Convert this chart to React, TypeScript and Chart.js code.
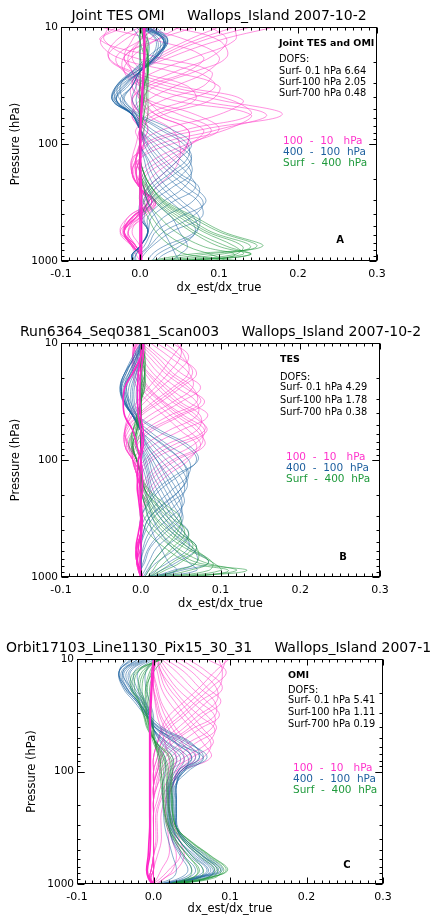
import React, { useEffect, useRef } from 'react';
import { Chart, registerables } from 'chart.js';
Chart.register(...registerables);

// ---------- data ----------
const PRESSURE = [10, 13, 18, 24, 32, 42, 56, 75, 100, 133, 178, 237, 316, 422, 562, 750, 880, 1000];
const X_TICKS = [-0.1, 0.0, 0.1, 0.2, 0.3];
const X_TICK_LABELS = ['-0.1', '0.0', '0.1', '0.2', '0.3'];
const Y_TICKS = [10, 100, 1000];
const Y_TICK_LABELS = ['10', '100', '1000'];
const LEGEND_LABELS = ['100  -  10   hPa', '400  -  100  hPa', 'Surf  -  400  hPa'];

// Panel A: Joint TES OMI
const A_MAGENTA = [
  [0.17, 0.10, 0.04, 0.00, -0.01, 0.00, 0.01, 0.00, -0.005, -0.01, -0.01, 0.00, 0.015, -0.005, -0.02, -0.01, 0.00, 0.00],
  [0.12, 0.12, 0.07, 0.02, -0.01, -0.01, 0.00, 0.01, 0.00, 0.00, -0.005, 0.005, 0.01, -0.015, -0.025, -0.005, 0.00, 0.002],
  [0.04, 0.10, 0.11, 0.07, 0.02, 0.00, -0.01, 0.00, 0.005, -0.005, 0.00, 0.00, 0.02, 0.005, -0.015, -0.01, -0.005, 0.00],
  [-0.03, -0.05, 0.02, 0.09, 0.08, 0.03, 0.00, 0.00, 0.01, -0.01, -0.01, 0.00, 0.015, -0.01, -0.02, -0.005, 0.00, 0.00],
  [-0.02, -0.05, -0.03, 0.04, 0.10, 0.09, 0.03, 0.00, 0.00, -0.005, -0.01, 0.00, 0.02, 0.00, -0.02, -0.01, 0.00, 0.00],
  [0.00, -0.03, -0.04, -0.01, 0.05, 0.13, 0.10, 0.03, 0.00, 0.00, -0.005, 0.005, 0.01, -0.015, -0.02, -0.005, 0.00, 0.00],
  [0.02, 0.00, -0.03, -0.02, 0.02, 0.10, 0.18, 0.08, 0.01, 0.00, -0.005, 0.00, 0.015, -0.005, -0.025, -0.01, 0.00, 0.00],
  [0.05, 0.02, -0.01, -0.02, 0.00, 0.04, 0.14, 0.11, 0.04, 0.00, -0.01, 0.00, 0.02, 0.00, -0.015, -0.005, 0.00, 0.00],
  [0.14, 0.08, 0.03, 0.00, -0.01, 0.01, 0.07, 0.10, 0.06, 0.02, 0.00, 0.00, 0.01, -0.01, -0.02, -0.01, 0.00, 0.00],
  [0.00, -0.01, -0.02, -0.01, 0.00, 0.01, 0.03, 0.08, 0.065, 0.04, 0.01, 0.00, 0.01, -0.01, -0.02, -0.005, 0.00, 0.00],
  [0.10, 0.06, 0.02, 0.00, 0.00, 0.00, 0.02, 0.06, 0.06, 0.05, 0.03, 0.01, 0.005, -0.005, -0.02, -0.01, 0.00, 0.00],
  [0.01, 0.00, -0.01, 0.00, 0.00, 0.00, 0.01, 0.04, 0.05, 0.05, 0.04, 0.02, 0.01, 0.00, -0.01, 0.00, 0.00, 0.00],
  [0.07, 0.02, -0.02, 0.00, 0.06, 0.07, 0.02, -0.005, 0.00, -0.005, -0.01, 0.00, 0.015, -0.01, -0.02, -0.005, 0.00, 0.00],
  [-0.05, 0.02, 0.08, 0.06, 0.01, -0.01, 0.00, 0.01, 0.00, -0.005, 0.00, 0.00, 0.01, -0.005, -0.02, -0.01, 0.00, 0.00],
  [0.09, 0.11, 0.09, 0.045, 0.005, -0.01, -0.005, 0.005, 0.00, -0.005, -0.005, 0.00, 0.015, -0.01, -0.02, -0.008, 0.00, 0.00],
  [0.00, 0.06, 0.10, 0.085, 0.045, 0.01, -0.01, 0.00, 0.005, -0.005, -0.005, 0.00, 0.015, -0.005, -0.02, -0.008, 0.00, 0.00],
  [-0.04, -0.045, -0.01, 0.07, 0.095, 0.06, 0.01, 0.00, 0.005, -0.008, -0.01, 0.00, 0.018, -0.005, -0.02, -0.008, 0.00, 0.00],
  [0.01, -0.02, -0.04, -0.015, 0.035, 0.115, 0.14, 0.06, 0.005, 0.00, -0.005, 0.00, 0.012, -0.01, -0.022, -0.008, 0.00, 0.00],
  [0.03, 0.01, -0.02, -0.02, 0.01, 0.07, 0.16, 0.10, 0.025, 0.00, -0.008, 0.00, 0.018, -0.003, -0.02, -0.008, 0.00, 0.00],
  [0.12, 0.07, 0.025, 0.00, -0.005, 0.005, 0.05, 0.09, 0.065, 0.03, 0.005, 0.00, 0.01, -0.008, -0.02, -0.008, 0.00, 0.00],
  [0.02, 0.00, -0.015, -0.01, 0.00, 0.005, 0.02, 0.06, 0.06, 0.045, 0.02, 0.005, 0.008, -0.005, -0.015, -0.005, 0.00, 0.00],
];
const A_ZERO = [
  [0.004, 0.005, 0.005, 0.004, 0.003, 0.002, 0.001, 0.00, 0.00, 0.00, 0.00, 0.00, 0.00, 0.00, 0.00, 0.00, 0.00, 0.00],
  [0.006, 0.006, 0.006, 0.005, 0.004, 0.003, 0.002, 0.001, 0.001, 0.001, 0.001, 0.002, 0.002, 0.002, 0.002, 0.002, 0.002, 0.002],
];
const A_BLUE = [
  [0.01, 0.03, 0.01, -0.01, -0.025, -0.02, 0.00, 0.04, 0.065, 0.05, 0.03, 0.01, 0.00, 0.00, 0.01, 0.00, -0.005, -0.01],
  [0.02, 0.035, 0.015, -0.01, -0.03, -0.03, -0.005, 0.025, 0.055, 0.065, 0.045, 0.02, 0.005, 0.00, 0.01, 0.00, -0.01, -0.01],
  [0.00, 0.03, 0.02, -0.005, -0.03, -0.035, -0.01, 0.01, 0.035, 0.06, 0.065, 0.04, 0.015, 0.005, 0.01, 0.00, -0.01, -0.01],
  [0.01, 0.035, 0.02, 0.00, -0.025, -0.035, -0.01, 0.00, 0.02, 0.04, 0.06, 0.07, 0.04, 0.015, 0.01, 0.00, -0.01, -0.005],
  [0.00, 0.03, 0.025, 0.00, -0.02, -0.03, -0.01, 0.00, 0.01, 0.025, 0.045, 0.07, 0.083, 0.05, 0.02, 0.01, 0.00, 0.00],
  [0.01, 0.03, 0.02, 0.00, -0.015, -0.03, -0.01, 0.00, 0.005, 0.015, 0.03, 0.05, 0.075, 0.078, 0.04, 0.015, 0.005, 0.00],
  [0.00, 0.025, 0.02, 0.00, -0.01, -0.025, -0.01, 0.00, 0.00, 0.01, 0.02, 0.035, 0.055, 0.075, 0.07, 0.03, 0.015, 0.01],
  [0.00, 0.02, 0.015, 0.00, -0.01, -0.02, -0.005, 0.00, 0.00, 0.005, 0.01, 0.02, 0.04, 0.06, 0.07, 0.05, 0.03, 0.02],
  [-0.005, 0.01, 0.01, 0.00, -0.005, -0.01, 0.00, 0.00, 0.00, 0.00, 0.005, 0.01, 0.02, 0.04, 0.05, 0.06, 0.05, 0.04],
  [-0.01, 0.00, 0.00, 0.00, 0.00, -0.005, 0.00, 0.00, 0.00, 0.00, 0.00, 0.005, 0.01, 0.02, 0.03, 0.04, 0.045, 0.05],
  [0.015, 0.035, 0.02, -0.005, -0.03, -0.033, -0.008, 0.015, 0.045, 0.065, 0.055, 0.03, 0.01, 0.003, 0.01, 0.00, -0.01, -0.01],
  [0.005, 0.032, 0.022, 0.00, -0.022, -0.032, -0.01, 0.00, 0.015, 0.03, 0.05, 0.075, 0.065, 0.03, 0.015, 0.005, -0.005, -0.005],
  [0.012, 0.033, 0.018, -0.008, -0.028, -0.025, -0.003, 0.03, 0.06, 0.06, 0.038, 0.015, 0.003, 0.00, 0.01, 0.00, -0.008, -0.01],
  [0.006, 0.032, 0.02, -0.003, -0.028, -0.035, -0.01, 0.005, 0.028, 0.05, 0.065, 0.055, 0.028, 0.01, 0.01, 0.00, -0.01, -0.008],
  [0.004, 0.03, 0.022, 0.00, -0.018, -0.03, -0.01, 0.00, 0.008, 0.02, 0.038, 0.06, 0.08, 0.065, 0.03, 0.012, 0.002, 0.00],
  [0.00, 0.022, 0.018, 0.00, -0.01, -0.022, -0.008, 0.00, 0.00, 0.008, 0.015, 0.028, 0.048, 0.068, 0.072, 0.04, 0.022, 0.015],
];
const A_GREEN = [
  [0.00, 0.005, 0.01, 0.01, 0.01, 0.01, 0.01, 0.005, 0.00, 0.00, 0.005, 0.015, 0.035, 0.07, 0.105, 0.155, 0.06, 0.01],
  [0.005, 0.01, 0.01, 0.01, 0.01, 0.005, 0.005, 0.00, 0.00, 0.00, 0.005, 0.015, 0.03, 0.06, 0.09, 0.14, 0.10, 0.02],
  [0.00, 0.005, 0.01, 0.01, 0.005, 0.005, 0.00, 0.00, 0.00, 0.00, 0.00, 0.01, 0.025, 0.05, 0.08, 0.12, 0.13, 0.04],
  [0.005, 0.005, 0.005, 0.01, 0.005, 0.00, 0.00, 0.00, 0.00, 0.00, 0.00, 0.005, 0.02, 0.04, 0.065, 0.10, 0.14, 0.06],
  [0.00, 0.00, 0.005, 0.005, 0.005, 0.00, 0.00, 0.00, 0.00, 0.00, 0.00, 0.005, 0.01, 0.025, 0.045, 0.08, 0.12, 0.09],
  [0.00, 0.00, 0.00, 0.005, 0.00, 0.00, 0.00, 0.00, 0.00, 0.00, 0.00, 0.00, 0.005, 0.015, 0.03, 0.06, 0.09, 0.11],
  [0.00, 0.00, 0.00, 0.00, 0.00, 0.00, 0.00, 0.00, 0.00, 0.00, 0.00, 0.00, 0.00, 0.01, 0.02, 0.04, 0.06, 0.13],
  [0.003, 0.008, 0.01, 0.01, 0.008, 0.008, 0.005, 0.002, 0.00, 0.00, 0.005, 0.015, 0.032, 0.065, 0.10, 0.148, 0.08, 0.015],
  [0.002, 0.006, 0.008, 0.01, 0.006, 0.004, 0.002, 0.00, 0.00, 0.00, 0.002, 0.012, 0.028, 0.055, 0.085, 0.13, 0.12, 0.03],
  [0.002, 0.004, 0.006, 0.008, 0.004, 0.002, 0.00, 0.00, 0.00, 0.00, 0.00, 0.008, 0.022, 0.045, 0.07, 0.11, 0.14, 0.05],
];

// Panel B: TES
const B_MAGENTA = [
  [0.053, 0.04, 0.025, 0.01, -0.005, -0.015, -0.02, -0.015, -0.005, 0.00, 0.00, 0.00, 0.00, 0.00, -0.005, -0.005, 0.00, 0.00],
  [0.04, 0.06, 0.045, 0.025, 0.005, -0.01, -0.02, -0.015, -0.005, 0.00, 0.00, 0.00, 0.00, 0.00, -0.005, -0.005, 0.00, 0.00],
  [0.02, 0.045, 0.07, 0.05, 0.025, 0.00, -0.015, -0.02, -0.01, 0.00, 0.00, 0.00, 0.00, 0.00, -0.005, -0.005, -0.003, 0.00],
  [0.005, 0.025, 0.05, 0.075, 0.05, 0.02, -0.005, -0.015, -0.01, -0.005, 0.00, 0.00, 0.00, 0.00, -0.005, -0.005, -0.003, 0.00],
  [-0.005, 0.01, 0.03, 0.055, 0.08, 0.05, 0.015, -0.005, -0.01, -0.005, 0.00, 0.00, 0.00, 0.00, -0.005, -0.005, 0.00, 0.00],
  [-0.01, 0.00, 0.015, 0.035, 0.06, 0.084, 0.05, 0.015, -0.005, -0.005, 0.00, 0.00, 0.00, 0.00, 0.00, -0.005, 0.00, 0.00],
  [-0.01, -0.005, 0.005, 0.02, 0.04, 0.065, 0.083, 0.05, 0.015, 0.00, -0.005, 0.00, 0.00, 0.00, 0.00, 0.00, 0.00, 0.00],
  [-0.005, -0.01, -0.005, 0.005, 0.025, 0.045, 0.07, 0.08, 0.045, 0.02, 0.005, 0.00, 0.00, 0.00, 0.00, 0.00, 0.00, 0.00],
  [0.00, -0.01, -0.01, -0.005, 0.01, 0.03, 0.05, 0.07, 0.06, 0.035, 0.015, 0.005, 0.00, 0.00, 0.00, 0.00, 0.00, 0.00],
  [0.045, 0.055, 0.06, 0.04, 0.015, -0.005, -0.02, -0.02, -0.01, 0.00, 0.00, 0.00, 0.00, 0.00, -0.005, -0.005, 0.00, 0.00],
  [0.00, 0.02, 0.04, 0.065, 0.07, 0.035, 0.005, -0.01, -0.01, -0.005, 0.00, 0.00, 0.00, 0.00, -0.005, -0.005, 0.00, 0.00],
  [-0.01, -0.005, 0.01, 0.03, 0.05, 0.075, 0.07, 0.03, 0.005, -0.005, 0.00, 0.00, 0.00, 0.00, 0.00, -0.005, 0.00, 0.00],
  [-0.005, -0.01, 0.00, 0.01, 0.03, 0.055, 0.08, 0.065, 0.03, 0.01, 0.00, 0.00, 0.00, 0.00, 0.00, 0.00, 0.00, 0.00],
  [0.05, 0.05, 0.035, 0.018, 0.00, -0.012, -0.02, -0.017, -0.007, 0.00, 0.00, 0.00, 0.00, 0.00, -0.005, -0.005, 0.00, 0.00],
  [0.012, 0.035, 0.06, 0.065, 0.04, 0.01, -0.01, -0.018, -0.01, -0.003, 0.00, 0.00, 0.00, 0.00, -0.005, -0.005, -0.003, 0.00],
  [-0.008, 0.005, 0.022, 0.045, 0.07, 0.07, 0.035, 0.005, -0.008, -0.005, 0.00, 0.00, 0.00, 0.00, 0.00, -0.005, 0.00, 0.00],
  [-0.01, -0.008, 0.008, 0.025, 0.045, 0.07, 0.08, 0.04, 0.01, -0.003, -0.003, 0.00, 0.00, 0.00, 0.00, 0.00, 0.00, 0.00],
  [-0.008, -0.01, -0.003, 0.008, 0.028, 0.05, 0.075, 0.075, 0.04, 0.015, 0.003, 0.00, 0.00, 0.00, 0.00, 0.00, 0.00, 0.00],
  [-0.003, -0.01, -0.008, 0.00, 0.018, 0.038, 0.06, 0.075, 0.055, 0.028, 0.01, 0.003, 0.00, 0.00, 0.00, 0.00, 0.00, 0.00],
  [0.03, 0.05, 0.065, 0.045, 0.02, -0.003, -0.018, -0.02, -0.01, 0.00, 0.00, 0.00, 0.00, 0.00, -0.005, -0.005, -0.003, 0.00],
  [-0.002, 0.015, 0.035, 0.06, 0.075, 0.045, 0.01, -0.008, -0.01, -0.005, 0.00, 0.00, 0.00, 0.00, -0.005, -0.005, 0.00, 0.00],
];
const B_ZERO = [
  [0.001, 0.00, -0.003, -0.004, -0.004, -0.003, 0.00, 0.001, -0.003, -0.004, -0.004, -0.002, 0.00, 0.00, -0.003, -0.004, -0.002, 0.00],
  [0.004, 0.003, 0.00, -0.001, -0.001, 0.00, 0.003, 0.003, 0.00, -0.001, -0.001, 0.00, 0.002, 0.001, 0.00, -0.001, 0.00, 0.001],
  [0.002, 0.00, -0.01, -0.02, -0.022, -0.02, -0.01, -0.005, 0.00, 0.002, 0.002, 0.00, 0.00, -0.003, -0.006, -0.004, 0.00, 0.002],
];
const B_BLUE = [
  [0.00, -0.005, -0.015, -0.02, -0.015, -0.005, 0.02, 0.055, 0.07, 0.05, 0.025, 0.01, 0.00, 0.00, 0.00, 0.00, 0.00, 0.00],
  [0.005, -0.005, -0.02, -0.025, -0.02, -0.01, 0.01, 0.035, 0.06, 0.06, 0.04, 0.02, 0.005, 0.00, 0.00, 0.00, 0.00, 0.00],
  [0.00, -0.01, -0.02, -0.026, -0.022, -0.01, 0.00, 0.02, 0.04, 0.055, 0.057, 0.035, 0.015, 0.005, 0.00, 0.00, 0.00, 0.00],
  [0.00, -0.005, -0.015, -0.024, -0.02, -0.01, 0.00, 0.01, 0.025, 0.04, 0.05, 0.054, 0.035, 0.015, 0.005, 0.00, 0.00, 0.00],
  [0.005, 0.00, -0.01, -0.02, -0.018, -0.01, 0.00, 0.005, 0.015, 0.025, 0.035, 0.045, 0.053, 0.04, 0.02, 0.01, 0.005, 0.00],
  [0.00, 0.00, -0.008, -0.015, -0.015, -0.008, 0.00, 0.00, 0.01, 0.015, 0.025, 0.035, 0.045, 0.06, 0.045, 0.02, 0.01, 0.005],
  [0.00, 0.00, -0.005, -0.01, -0.01, -0.005, 0.00, 0.00, 0.005, 0.01, 0.015, 0.025, 0.035, 0.05, 0.07, 0.045, 0.025, 0.01],
  [0.00, 0.00, 0.00, -0.005, -0.005, 0.00, 0.00, 0.00, 0.00, 0.005, 0.01, 0.015, 0.025, 0.04, 0.06, 0.085, 0.05, 0.02],
  [0.00, 0.00, 0.00, 0.00, 0.00, 0.00, 0.00, 0.00, 0.00, 0.00, 0.005, 0.01, 0.015, 0.025, 0.04, 0.06, 0.07, 0.015],
  [0.00, 0.00, 0.00, 0.00, 0.00, 0.00, 0.00, 0.00, 0.00, 0.00, 0.00, 0.005, 0.01, 0.015, 0.025, 0.035, 0.045, 0.005],
  [0.003, -0.008, -0.018, -0.024, -0.02, -0.008, 0.005, 0.03, 0.05, 0.058, 0.05, 0.03, 0.01, 0.003, 0.00, 0.00, 0.00, 0.00],
  [0.002, -0.002, -0.012, -0.02, -0.018, -0.01, 0.00, 0.008, 0.02, 0.03, 0.04, 0.05, 0.05, 0.03, 0.012, 0.005, 0.00, 0.00],
  [0.002, -0.004, -0.013, -0.018, -0.013, -0.003, 0.025, 0.06, 0.072, 0.045, 0.02, 0.008, 0.00, 0.00, 0.00, 0.00, 0.00, 0.00],
  [0.004, -0.007, -0.02, -0.026, -0.021, -0.01, 0.005, 0.028, 0.05, 0.06, 0.05, 0.028, 0.01, 0.003, 0.00, 0.00, 0.00, 0.00],
  [0.00, -0.008, -0.018, -0.025, -0.021, -0.01, 0.00, 0.015, 0.032, 0.048, 0.055, 0.045, 0.025, 0.01, 0.003, 0.00, 0.00, 0.00],
  [0.002, -0.003, -0.012, -0.022, -0.019, -0.01, 0.00, 0.007, 0.02, 0.033, 0.045, 0.052, 0.045, 0.025, 0.01, 0.003, 0.00, 0.00],
  [0.003, 0.00, -0.009, -0.018, -0.016, -0.009, 0.00, 0.003, 0.012, 0.02, 0.03, 0.04, 0.05, 0.05, 0.03, 0.015, 0.008, 0.003],
  [0.00, 0.00, -0.006, -0.012, -0.012, -0.006, 0.00, 0.00, 0.007, 0.012, 0.02, 0.03, 0.04, 0.055, 0.06, 0.035, 0.018, 0.008],
  [0.00, 0.00, -0.003, -0.008, -0.008, -0.003, 0.00, 0.00, 0.003, 0.008, 0.012, 0.02, 0.03, 0.045, 0.065, 0.07, 0.04, 0.015],
];
const B_GREEN = [
  [0.00, 0.005, 0.005, 0.005, 0.00, 0.00, -0.01, -0.01, -0.005, 0.00, 0.01, 0.03, 0.05, 0.045, 0.03, 0.015, 0.01, 0.005],
  [0.00, 0.005, 0.005, 0.00, 0.00, -0.005, -0.01, -0.015, -0.005, 0.00, 0.005, 0.02, 0.04, 0.06, 0.05, 0.03, 0.02, 0.01],
  [0.00, 0.00, 0.005, 0.005, 0.00, -0.005, -0.005, -0.01, -0.005, 0.00, 0.005, 0.015, 0.03, 0.05, 0.07, 0.05, 0.03, 0.015],
  [0.005, 0.005, 0.00, 0.00, 0.00, 0.00, -0.005, -0.01, -0.005, 0.00, 0.00, 0.01, 0.02, 0.04, 0.065, 0.085, 0.06, 0.02],
  [0.00, 0.00, 0.00, 0.00, 0.00, 0.00, -0.005, -0.005, 0.00, 0.00, 0.00, 0.005, 0.015, 0.03, 0.055, 0.09, 0.10, 0.03],
  [0.00, 0.00, 0.00, 0.00, 0.00, 0.00, 0.00, -0.005, 0.00, 0.00, 0.00, 0.005, 0.01, 0.025, 0.045, 0.08, 0.12, 0.045],
  [0.00, 0.00, 0.00, 0.00, 0.00, 0.00, 0.00, 0.00, 0.00, 0.00, 0.00, 0.00, 0.005, 0.02, 0.04, 0.07, 0.133, 0.05],
  [0.00, 0.00, 0.00, 0.00, 0.00, 0.00, 0.00, 0.00, 0.00, 0.00, 0.00, 0.00, 0.00, 0.01, 0.03, 0.06, 0.11, 0.07],
  [0.00, 0.003, 0.005, 0.003, 0.00, -0.003, -0.01, -0.012, -0.005, 0.00, 0.008, 0.025, 0.045, 0.055, 0.04, 0.022, 0.015, 0.008],
  [0.00, 0.002, 0.005, 0.003, 0.00, -0.003, -0.007, -0.012, -0.005, 0.00, 0.005, 0.018, 0.035, 0.055, 0.065, 0.04, 0.025, 0.012],
  [0.003, 0.003, 0.002, 0.002, 0.00, -0.002, -0.005, -0.01, -0.005, 0.00, 0.003, 0.012, 0.025, 0.045, 0.07, 0.07, 0.045, 0.018],
  [0.00, 0.00, 0.00, 0.00, 0.00, 0.00, -0.003, -0.007, 0.00, 0.00, 0.00, 0.008, 0.018, 0.035, 0.06, 0.09, 0.085, 0.025],
];

// Panel C: OMI
const C_MAGENTA = [
  [0.099, 0.08, 0.06, 0.04, 0.02, 0.01, 0.005, 0.00, 0.00, 0.00, 0.00, 0.00, 0.00, 0.00, 0.00, -0.003, -0.005, 0.00],
  [0.07, 0.095, 0.075, 0.055, 0.035, 0.015, 0.005, 0.00, 0.00, 0.00, 0.00, 0.00, 0.00, 0.00, 0.00, -0.003, -0.005, 0.00],
  [0.045, 0.07, 0.09, 0.07, 0.05, 0.03, 0.01, 0.005, 0.00, 0.00, 0.00, 0.00, 0.00, 0.00, 0.00, -0.003, -0.005, 0.00],
  [0.025, 0.05, 0.07, 0.088, 0.065, 0.045, 0.02, 0.01, 0.005, 0.00, 0.00, 0.00, 0.00, 0.00, 0.00, 0.00, -0.004, 0.00],
  [0.01, 0.03, 0.05, 0.07, 0.086, 0.06, 0.035, 0.015, 0.005, 0.00, 0.00, 0.00, 0.00, 0.00, 0.00, 0.00, -0.003, 0.00],
  [0.005, 0.015, 0.03, 0.05, 0.07, 0.082, 0.055, 0.03, 0.01, 0.005, 0.00, 0.00, 0.00, 0.00, 0.00, 0.00, 0.00, 0.00],
  [0.005, 0.01, 0.02, 0.035, 0.05, 0.065, 0.078, 0.05, 0.02, 0.01, 0.005, 0.00, 0.00, 0.00, 0.00, 0.00, 0.00, 0.00],
  [0.00, 0.005, 0.01, 0.02, 0.035, 0.05, 0.065, 0.075, 0.035, 0.02, 0.01, 0.005, 0.005, 0.005, 0.00, 0.00, 0.00, 0.00],
  [0.00, 0.00, 0.005, 0.01, 0.02, 0.03, 0.045, 0.055, 0.035, 0.025, 0.015, 0.01, 0.01, 0.01, 0.005, 0.00, 0.00, 0.00],
  [0.00, 0.00, 0.00, 0.005, 0.01, 0.02, 0.03, 0.04, 0.03, 0.025, 0.02, 0.02, 0.025, 0.03, 0.035, 0.02, 0.01, 0.00],
  [0.085, 0.09, 0.085, 0.06, 0.04, 0.02, 0.01, 0.005, 0.00, 0.00, 0.00, 0.00, 0.00, 0.00, 0.00, -0.003, -0.005, 0.00],
  [0.015, 0.04, 0.06, 0.08, 0.08, 0.05, 0.025, 0.01, 0.005, 0.00, 0.00, 0.00, 0.00, 0.00, 0.00, 0.00, -0.003, 0.00],
  [0.005, 0.01, 0.025, 0.04, 0.06, 0.08, 0.07, 0.04, 0.015, 0.005, 0.00, 0.00, 0.00, 0.00, 0.00, 0.00, 0.00, 0.00],
  [0.00, 0.00, 0.00, 0.002, 0.005, 0.01, 0.015, 0.02, 0.02, 0.018, 0.016, 0.016, 0.02, 0.025, 0.03, 0.025, 0.015, 0.005],
  [0.095, 0.088, 0.068, 0.048, 0.028, 0.012, 0.005, 0.00, 0.00, 0.00, 0.00, 0.00, 0.00, 0.00, 0.00, -0.003, -0.005, 0.00],
  [0.035, 0.06, 0.082, 0.082, 0.058, 0.038, 0.015, 0.008, 0.003, 0.00, 0.00, 0.00, 0.00, 0.00, 0.00, 0.00, -0.004, 0.00],
  [0.008, 0.02, 0.04, 0.06, 0.08, 0.075, 0.045, 0.022, 0.008, 0.003, 0.00, 0.00, 0.00, 0.00, 0.00, 0.00, 0.00, 0.00],
  [0.003, 0.008, 0.015, 0.028, 0.042, 0.058, 0.075, 0.065, 0.028, 0.015, 0.008, 0.003, 0.003, 0.003, 0.00, 0.00, 0.00, 0.00],
  [0.00, 0.00, 0.003, 0.008, 0.015, 0.025, 0.038, 0.048, 0.032, 0.025, 0.018, 0.015, 0.018, 0.02, 0.02, 0.01, 0.005, 0.00],
  [0.00, 0.00, 0.00, 0.003, 0.008, 0.015, 0.022, 0.03, 0.025, 0.022, 0.02, 0.022, 0.028, 0.035, 0.04, 0.03, 0.015, 0.003],
];
const C_ZERO = [
  [0.002, 0.00, -0.002, -0.003, -0.004, -0.004, -0.004, -0.004, -0.004, -0.004, -0.004, -0.004, -0.004, -0.004, -0.005, -0.008, -0.006, 0.00],
  [0.00, -0.002, -0.003, -0.004, -0.005, -0.005, -0.005, -0.005, -0.005, -0.005, -0.005, -0.005, -0.005, -0.006, -0.007, -0.009, -0.007, -0.002],
];
const C_BLUE = [
  [-0.03, -0.045, -0.04, -0.025, -0.01, 0.01, 0.045, 0.07, 0.04, 0.03, 0.03, 0.03, 0.03, 0.04, 0.06, 0.08, 0.05, 0.01],
  [-0.025, -0.045, -0.035, -0.02, -0.005, 0.015, 0.05, 0.06, 0.035, 0.03, 0.03, 0.03, 0.032, 0.045, 0.065, 0.085, 0.06, 0.02],
  [-0.02, -0.04, -0.035, -0.02, -0.008, 0.005, 0.03, 0.065, 0.045, 0.028, 0.028, 0.028, 0.03, 0.045, 0.07, 0.09, 0.065, 0.025],
  [-0.015, -0.04, -0.03, -0.018, -0.008, 0.005, 0.035, 0.055, 0.035, 0.025, 0.025, 0.025, 0.026, 0.035, 0.05, 0.07, 0.055, 0.015],
  [-0.01, -0.035, -0.03, -0.015, -0.005, 0.00, 0.02, 0.045, 0.04, 0.022, 0.022, 0.022, 0.024, 0.035, 0.055, 0.075, 0.06, 0.02],
  [-0.005, -0.03, -0.025, -0.012, -0.005, 0.00, 0.015, 0.035, 0.028, 0.02, 0.02, 0.02, 0.022, 0.028, 0.04, 0.055, 0.045, 0.012],
  [0.00, -0.02, -0.018, -0.01, -0.003, 0.00, 0.01, 0.025, 0.022, 0.017, 0.017, 0.018, 0.02, 0.025, 0.035, 0.045, 0.035, 0.008],
  [0.00, -0.01, -0.01, -0.005, 0.00, 0.00, 0.005, 0.015, 0.015, 0.012, 0.012, 0.013, 0.015, 0.02, 0.025, 0.03, 0.025, 0.005],
  [-0.035, -0.045, -0.038, -0.022, -0.01, 0.005, 0.04, 0.06, 0.038, 0.029, 0.029, 0.029, 0.03, 0.042, 0.065, 0.088, 0.058, 0.02],
  [-0.02, -0.042, -0.036, -0.02, -0.007, 0.008, 0.03, 0.05, 0.032, 0.026, 0.026, 0.027, 0.03, 0.04, 0.058, 0.078, 0.07, 0.03],
  [-0.028, -0.045, -0.038, -0.022, -0.008, 0.012, 0.048, 0.065, 0.038, 0.03, 0.03, 0.03, 0.031, 0.043, 0.063, 0.083, 0.055, 0.015],
  [-0.012, -0.038, -0.032, -0.016, -0.006, 0.003, 0.028, 0.05, 0.036, 0.024, 0.024, 0.024, 0.025, 0.035, 0.052, 0.072, 0.058, 0.018],
  [-0.008, -0.032, -0.028, -0.014, -0.005, 0.00, 0.018, 0.04, 0.032, 0.021, 0.021, 0.021, 0.023, 0.031, 0.047, 0.065, 0.052, 0.016],
  [-0.003, -0.025, -0.022, -0.011, -0.004, 0.00, 0.012, 0.03, 0.025, 0.019, 0.019, 0.019, 0.021, 0.026, 0.038, 0.05, 0.04, 0.01],
];
const C_GREEN = [
  [0.012, -0.025, -0.03, -0.02, -0.013, -0.008, 0.005, 0.025, 0.025, 0.024, 0.025, 0.026, 0.03, 0.05, 0.075, 0.097, 0.07, 0.02],
  [0.01, -0.02, -0.025, -0.018, -0.012, -0.006, 0.004, 0.02, 0.022, 0.022, 0.023, 0.025, 0.03, 0.048, 0.072, 0.092, 0.075, 0.025],
  [0.008, -0.015, -0.02, -0.015, -0.01, -0.005, 0.003, 0.015, 0.02, 0.02, 0.02, 0.022, 0.028, 0.045, 0.068, 0.088, 0.08, 0.03],
  [0.006, -0.01, -0.015, -0.012, -0.008, -0.004, 0.002, 0.012, 0.016, 0.017, 0.018, 0.02, 0.025, 0.04, 0.06, 0.08, 0.07, 0.03],
  [0.004, -0.005, -0.01, -0.008, -0.005, -0.002, 0.002, 0.01, 0.013, 0.014, 0.015, 0.017, 0.022, 0.035, 0.05, 0.065, 0.06, 0.025],
  [0.002, 0.00, -0.005, -0.004, -0.002, 0.00, 0.002, 0.006, 0.008, 0.01, 0.012, 0.014, 0.018, 0.028, 0.04, 0.05, 0.045, 0.02],
  [0.014, 0.00, -0.01, -0.01, -0.008, -0.005, 0.00, 0.008, 0.01, 0.012, 0.013, 0.015, 0.02, 0.03, 0.045, 0.06, 0.05, 0.02],
  [0.011, -0.022, -0.028, -0.019, -0.012, -0.007, 0.004, 0.022, 0.024, 0.023, 0.024, 0.025, 0.03, 0.049, 0.074, 0.095, 0.072, 0.022],
  [0.007, -0.012, -0.018, -0.013, -0.009, -0.004, 0.003, 0.013, 0.018, 0.018, 0.019, 0.021, 0.026, 0.042, 0.064, 0.084, 0.075, 0.03],
  [0.003, -0.003, -0.008, -0.006, -0.004, -0.001, 0.002, 0.008, 0.01, 0.012, 0.013, 0.015, 0.02, 0.031, 0.045, 0.058, 0.052, 0.022],
];

// ---------- styles ----------
const MAGENTA = 'rgba(255, 60, 200, 0.8)';
const BLUE = 'rgba(25, 95, 160, 0.75)';
const GREEN = 'rgba(30, 150, 60, 0.8)';
const MAGENTA_TXT = '#ff33cc';
const BLUE_TXT = '#1d5f9e';
const GREEN_TXT = '#1f9a3c';
const FONT = '"DejaVu Sans", sans-serif';

type Spec = {
  key: string;
  top: number;
  height: number;
  pad: { left: number; right: number; top: number; bottom: number };
  title: string;
  header: string;
  dofs: string[];
  letter: string;
  textX: number;
  textY: number[];
  legX: number;
  legY: number[];
  letterPos: [number, number];
  xTitleOff: number;
  magenta: number[][];
  zero: number[][];
  blue: number[][];
  green: number[][];
};

const SPECS: Spec[] = [
  {
    key: 'A', top: 0, height: 305,
    pad: { left: 61, right: 54, top: 27, bottom: 44 },
    title: 'Joint TES OMI     Wallops_Island 2007-10-2',
    header: 'Joint TES and OMI',
    dofs: ['Surf- 0.1 hPa 6.64', 'Surf-100 hPa 2.05', 'Surf-700 hPa 0.48'],
    letter: 'A', textX: 279, textY: [44, 59, 71, 82, 93], legX: 283, legY: [141, 152, 163], letterPos: [340, 240],
    xTitleOff: 27,
    magenta: A_MAGENTA, zero: A_ZERO, blue: A_BLUE, green: A_GREEN,
  },
  {
    key: 'B', top: 305, height: 305,
    pad: { left: 61, right: 51, top: 38, bottom: 33 },
    title: 'Run6364_Seq0381_Scan003     Wallops_Island 2007-10-2',
    header: 'TES',
    dofs: ['Surf- 0.1 hPa 4.29', 'Surf-100 hPa 1.78', 'Surf-700 hPa 0.38'],
    letter: 'B', textX: 280, textY: [55, 72, 82, 95, 107], legX: 286, legY: [152, 163, 174], letterPos: [343, 252],
    xTitleOff: 27,
    magenta: B_MAGENTA, zero: B_ZERO, blue: B_BLUE, green: B_GREEN,
  },
  {
    key: 'C', top: 610, height: 306,
    pad: { left: 77, right: 48, top: 49, bottom: 32 },
    title: 'Orbit17103_Line1130_Pix15_30_31     Wallops_Island 2007-10-2',
    header: 'OMI',
    dofs: ['Surf- 0.1 hPa 5.41', 'Surf-100 hPa 1.11', 'Surf-700 hPa 0.19'],
    letter: 'C', textX: 288, textY: [66, 80, 90, 102, 114], legX: 293, legY: [158, 169, 180], letterPos: [347, 255],
    xTitleOff: 25,
    magenta: C_MAGENTA, zero: C_ZERO, blue: C_BLUE, green: C_GREEN,
  },
];

function makeDecor(spec: Spec) {
  return {
    id: 'decor' + spec.key,
    afterDraw(chart: any) {
      const { ctx, chartArea: a, scales } = chart;
      const xs = scales.x;
      const ys = scales.y;
      ctx.save();
      ctx.strokeStyle = '#000';
      ctx.fillStyle = '#000';
      ctx.lineWidth = 1;
      const L = Math.round(a.left) + 0.5;
      const R = Math.round(a.right) - 0.5;
      const T = Math.round(a.top) + 0.5;
      const B = Math.round(a.bottom) - 0.5;
      ctx.strokeRect(L, T, R - L, B - T);
      const line = (x1: number, y1: number, x2: number, y2: number) => {
        ctx.beginPath(); ctx.moveTo(x1, y1); ctx.lineTo(x2, y2); ctx.stroke();
      };
      for (let i = -10; i <= 30; i++) {
        const px = Math.round(xs.getPixelForValue(i / 100)) + 0.5;
        const len = i % 10 === 0 ? 6 : 3;
        line(px, B, px, B - len);
        line(px, T, px, T + len);
      }
      for (const d of [10, 100]) {
        for (let m = 1; m <= 10; m++) {
          const py = Math.round(ys.getPixelForValue(d * m)) + 0.5;
          const len = m === 1 || m === 10 ? 7 : 3;
          line(L, py, L + len, py);
          line(R, py, R - len, py);
        }
      }
      ctx.font = '11px ' + FONT;
      ctx.textBaseline = 'middle';
      ctx.textAlign = 'center';
      X_TICKS.forEach((v, i) => ctx.fillText(X_TICK_LABELS[i], xs.getPixelForValue(v), a.bottom + 13));
      ctx.textAlign = 'right';
      ctx.font = '10.5px ' + FONT;
      Y_TICKS.forEach((v, i) => ctx.fillText(Y_TICK_LABELS[i], a.left - 3, ys.getPixelForValue(v)));
      ctx.font = '11.5px ' + FONT;
      ctx.textAlign = 'center';
      ctx.fillText('dx_est/dx_true', (a.left + a.right) / 2, a.bottom + spec.xTitleOff);
      ctx.save();
      ctx.translate(a.left - 45, (a.top + a.bottom) / 2);
      ctx.rotate(-Math.PI / 2);
      ctx.fillText('Pressure (hPa)', 0, 0);
      ctx.restore();
      ctx.font = '14px ' + FONT;
      ctx.textAlign = 'center';
      ctx.fillText(spec.title, (a.left + a.right) / 2, a.top - 11);
      ctx.textAlign = 'left';
      ctx.font = 'bold 9.5px ' + FONT;
      ctx.fillText(spec.header, spec.textX, spec.textY[0]);
      ctx.font = '9.8px ' + FONT;
      ctx.fillText('DOFS:', spec.textX, spec.textY[1]);
      spec.dofs.forEach((t, i) => ctx.fillText(t, spec.textX, spec.textY[2 + i]));
      const cols = [MAGENTA_TXT, BLUE_TXT, GREEN_TXT];
      ctx.font = '10.5px ' + FONT;
      LEGEND_LABELS.forEach((t, i) => {
        ctx.fillStyle = cols[i];
        ctx.fillText(t, spec.legX, spec.legY[i]);
      });
      ctx.fillStyle = '#000';
      ctx.font = 'bold 10px ' + FONT;
      ctx.textAlign = 'center';
      ctx.fillText(spec.letter, spec.letterPos[0], spec.letterPos[1]);
      ctx.restore();
    },
  };
}

function Panel({ spec }: { spec: Spec }) {
  const ref = useRef<HTMLCanvasElement>(null);
  useEffect(() => {
    if (!ref.current) return;
    const datasets: any[] = [];
    const add = (curves: number[][], color: string, width: number) => {
      curves.forEach((c) =>
        datasets.push({
          data: c.map((x, i) => ({ x, y: PRESSURE[i] })),
          borderColor: color,
          borderWidth: width,
          pointRadius: 0,
          tension: 0.4,
          fill: false,
        })
      );
    };
    add(spec.zero, 'rgba(255, 40, 200, 1)', 1.6);
    add(spec.green, GREEN, 0.7);
    add(spec.blue, BLUE, 0.7);
    add(spec.magenta, MAGENTA, 0.7);
    const chart = new Chart(ref.current, {
      type: 'line',
      data: { datasets },
      options: {
        responsive: false,
        animation: false,
        devicePixelRatio: 1,
        layout: { padding: spec.pad },
        plugins: { legend: { display: false }, tooltip: { enabled: false }, title: { display: false } },
        scales: {
          x: { type: 'linear', min: -0.1, max: 0.3, display: false },
          y: { type: 'logarithmic', min: 10, max: 1000, reverse: true, display: false },
        },
      },
      plugins: [makeDecor(spec)],
    } as any);
    return () => chart.destroy();
  }, [spec]);
  return (
    <canvas
      ref={ref}
      width={431}
      height={spec.height}
      style={{ position: 'absolute', left: 0, top: spec.top, width: 431, height: spec.height }}
    />
  );
}

export default function App() {
  return (
    <div style={{ position: 'absolute', left: 0, top: 0, width: 431, height: 916, background: '#fff', overflow: 'hidden' }}>
      {SPECS.map((s) => (
        <Panel key={s.key} spec={s} />
      ))}
    </div>
  );
}
